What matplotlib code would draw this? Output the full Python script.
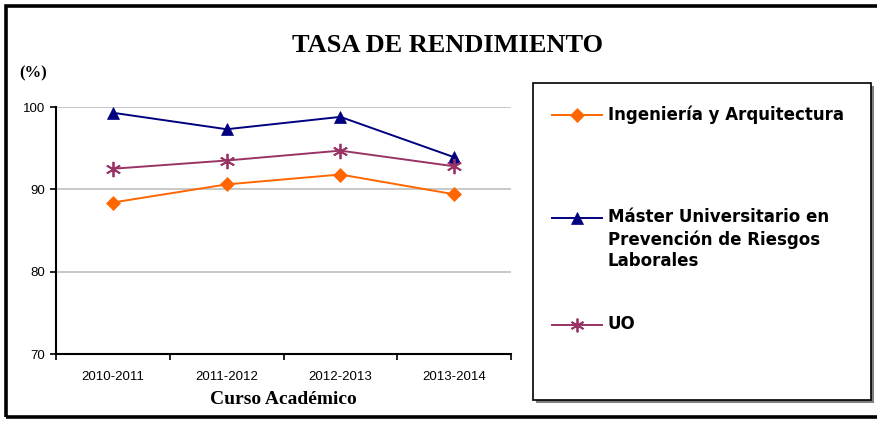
import matplotlib
matplotlib.use("Agg")
import matplotlib.pyplot as plt
from matplotlib.patches import Rectangle
from matplotlib.ticker import FixedLocator

# --- data ---
cursos = ["2010-2011", "2011-2012", "2012-2013", "2013-2014"]
ingenieria = [88.4, 90.6, 91.8, 89.4]
master = [99.3, 97.3, 98.8, 93.9]
uo = [92.5, 93.5, 94.7, 92.8]

series_labels = ["Ingeniería y Arquitectura",
                 "Máster Universitario en\nPrevención de Riesgos\nLaborales",
                 "UO"]
series_colors = ["#FF6600", "#000080", "#993366"]
series_markers = ["D", "^", (6, 2, 0)]
series_sizes = [7.5, 9, 11]

SERIF = "Liberation Serif"
SANS = "Liberation Sans"

W, H = 878, 421
fig = plt.figure(figsize=(W / 100, H / 100), dpi=100)

def fx(px):
    return px / W

def fy(py):
    return 1 - py / H

# outer frame (right side runs past the image edge)
fig.patches.append(Rectangle((fx(6), fy(417)), fx(900) - fx(6), fy(6) - fy(417),
                             transform=fig.transFigure, fill=False,
                             edgecolor="black", linewidth=2.6, clip_on=False))

ax = fig.add_axes([fx(56), fy(354), fx(511) - fx(56), fy(107) - fy(354)])
x = list(range(len(cursos)))
all_series = [ingenieria, master, uo]
for vals, c, m, s in zip(all_series, series_colors, series_markers, series_sizes):
    ax.plot(x, vals, color=c, marker=m, markersize=s, linewidth=1.4,
            markeredgecolor=c, markeredgewidth=1.3 if m == (6, 2, 0) else 0.5,
            clip_on=False, zorder=3)

ax.set_xlim(-0.5, 3.5)
ax.set_ylim(70, 100)
ax.set_yticks([70, 80, 90, 100])
ax.set_xticks(x)
ax.set_xticklabels(cursos, fontsize=9.5, family=SANS)
ax.xaxis.set_minor_locator(FixedLocator([-0.5, 0.5, 1.5, 2.5, 3.5]))
ax.tick_params(axis="x", which="major", length=0, pad=12)
ax.tick_params(axis="x", which="minor", length=4, width=1.2, direction="out")
ax.tick_params(axis="y", length=4, width=1.2, direction="out", labelsize=9.5, pad=4)
for lab in ax.get_yticklabels():
    lab.set_family(SANS)
ax.yaxis.grid(True, color="#BFBFBF", linewidth=1.2)
ax.set_axisbelow(True)
for sp in ["top", "right"]:
    ax.spines[sp].set_visible(False)
for sp in ["left", "bottom"]:
    ax.spines[sp].set_linewidth(1.5)
ax.set_xlabel("Curso Académico", family=SERIF, fontweight="bold", fontsize=14, labelpad=6)

fig.text(fx(448), fy(46), "TASA DE RENDIMIENTO", family=SERIF, fontweight="bold",
         fontsize=19, ha="center", va="center")
fig.text(fx(19), fy(73), "(%)", family=SERIF, fontweight="bold", fontsize=12,
         ha="left", va="center")

# legend box with shadow
lx0, lx1, ly0, ly1 = 533, 871, 83, 400
fig.patches.append(Rectangle((fx(lx0 + 3), fy(ly1 + 3)), fx(lx1) - fx(lx0), fy(ly0) - fy(ly1),
                             transform=fig.transFigure, facecolor="#808080",
                             edgecolor="none", zorder=0))
fig.patches.append(Rectangle((fx(lx0), fy(ly1)), fx(lx1) - fx(lx0), fy(ly0) - fy(ly1),
                             transform=fig.transFigure, facecolor="white",
                             edgecolor="black", linewidth=1.2, zorder=1))

lax = fig.add_axes([0, 0, 1, 1], facecolor="none")
lax.set_zorder(5)
lax.set_xlim(0, W)
lax.set_ylim(H, 0)
lax.axis("off")
entry_y = [115, 218, 325]
for lab, c, m, s, yy in zip(series_labels, series_colors, series_markers, series_sizes, entry_y):
    lax.plot([552, 602], [yy, yy], color=c, linewidth=1.4)
    lax.plot([577], [yy], color=c, marker=m, markersize=s * 0.9, markeredgecolor=c,
             markeredgewidth=1.3 if m == (6, 2, 0) else 0.5)
    lax.text(608, yy - 10, lab, family="DejaVu Sans", fontweight="bold", fontsize=12,
             ha="left", va="top", linespacing=1.28)

fig.savefig("out.png", dpi=100)
